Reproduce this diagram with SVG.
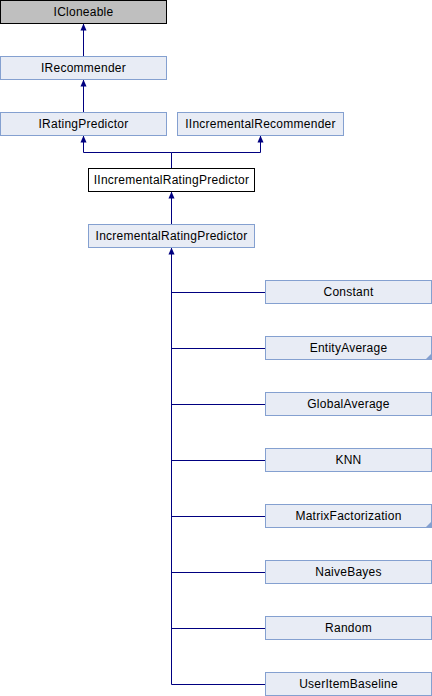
<svg xmlns="http://www.w3.org/2000/svg" width="432" height="696" viewBox="0 0 432 696">
<style>
.n rect{fill:#e8ecf5;stroke:#84a0d0;stroke-width:1}
.gray rect{fill:#bfbfbf;stroke:#000}
.cur rect{fill:#fff;stroke:#000}
text{font-family:"Liberation Sans",Arial,sans-serif;font-size:12px;letter-spacing:0.25px;text-anchor:middle;fill:#000}
.e line,.e polyline{stroke:#000080;stroke-width:1;fill:none}
.tri{fill:#84a0d0}
</style>
<defs>
<marker id="ah" markerUnits="userSpaceOnUse" markerWidth="8" markerHeight="8" refX="7" refY="3.5" orient="auto">
<path d="M0,0.5 L7,3.5 L0,6.5 z" fill="#000080"/>
</marker>
</defs>
<g class="e" id="edges">
<line x1="83.5" y1="56" x2="83.5" y2="23.5" marker-end="url(#ah)"/>
<line x1="83.5" y1="112" x2="83.5" y2="79.5" marker-end="url(#ah)"/>
<polyline points="171.5,168 171.5,152.5 83.5,152.5 83.5,135.5" marker-end="url(#ah)"/>
<polyline points="171.5,152.5 260.5,152.5 260.5,135.5" marker-end="url(#ah)"/>
<line x1="171.5" y1="224" x2="171.5" y2="191.5" marker-end="url(#ah)"/>
<line x1="171.5" y1="684.5" x2="171.5" y2="247.5" marker-end="url(#ah)"/>
<line x1="171.5" y1="292.5" x2="265" y2="292.5"/>
<line x1="171.5" y1="348.5" x2="265" y2="348.5"/>
<line x1="171.5" y1="404.5" x2="265" y2="404.5"/>
<line x1="171.5" y1="460.5" x2="265" y2="460.5"/>
<line x1="171.5" y1="516.5" x2="265" y2="516.5"/>
<line x1="171.5" y1="572.5" x2="265" y2="572.5"/>
<line x1="171.5" y1="628.5" x2="265" y2="628.5"/>
<line x1="171.5" y1="684.5" x2="265" y2="684.5"/>
</g>
<g id="ICloneable" class="gray"><rect x="0.5" y="0.5" width="166" height="23"/><text x="83.5" y="15.5">ICloneable</text></g>
<g id="IRecommender" class="n"><rect x="0.5" y="56.5" width="166" height="23"/><text x="83.5" y="71.5">IRecommender</text></g>
<g id="IRatingPredictor" class="n"><rect x="0.5" y="112.5" width="166" height="23"/><text x="83.5" y="127.5">IRatingPredictor</text></g>
<g id="IIncrementalRecommender" class="n"><rect x="177.5" y="112.5" width="166" height="23"/><text x="260.5" y="127.5">IIncrementalRecommender</text></g>
<g id="IIncrementalRatingPredictor" class="cur"><rect x="88.5" y="168.5" width="166" height="23"/><text x="171.5" y="183.5">IIncrementalRatingPredictor</text></g>
<g id="IncrementalRatingPredictor" class="n"><rect x="88.5" y="224.5" width="166" height="23"/><text x="171.5" y="239.5">IncrementalRatingPredictor</text></g>
<g id="Constant" class="n"><rect x="265.5" y="280.5" width="166" height="23"/><text x="348.5" y="295.5">Constant</text></g>
<g id="EntityAverage" class="n"><rect x="265.5" y="336.5" width="166" height="23"/><text x="348.5" y="351.5">EntityAverage</text><polygon class="tri" points="425,360 432,353 432,360"/></g>
<g id="GlobalAverage" class="n"><rect x="265.5" y="392.5" width="166" height="23"/><text x="348.5" y="407.5">GlobalAverage</text></g>
<g id="KNN" class="n"><rect x="265.5" y="448.5" width="166" height="23"/><text x="348.5" y="463.5">KNN</text></g>
<g id="MatrixFactorization" class="n"><rect x="265.5" y="504.5" width="166" height="23"/><text x="348.5" y="519.5">MatrixFactorization</text><polygon class="tri" points="425,528 432,521 432,528"/></g>
<g id="NaiveBayes" class="n"><rect x="265.5" y="560.5" width="166" height="23"/><text x="348.5" y="575.5">NaiveBayes</text></g>
<g id="Random" class="n"><rect x="265.5" y="616.5" width="166" height="23"/><text x="348.5" y="631.5">Random</text></g>
<g id="UserItemBaseline" class="n"><rect x="265.5" y="672.5" width="166" height="23"/><text x="348.5" y="687.5">UserItemBaseline</text></g>
</svg>
